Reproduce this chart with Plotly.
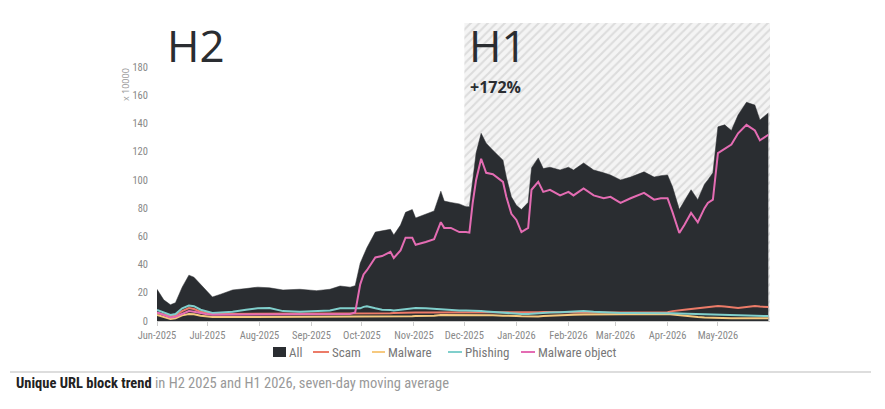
import plotly.graph_objects as go

dates = [
    "2025-06-01", "2025-06-05", "2025-06-09", "2025-06-12", "2025-06-16", "2025-06-20",
    "2025-06-23", "2025-06-27", "2025-06-30", "2025-07-04", "2025-07-09", "2025-07-16",
    "2025-07-24", "2025-07-31", "2025-08-07", "2025-08-15", "2025-08-25", "2025-09-04",
    "2025-09-12", "2025-09-18", "2025-09-24", "2025-09-27", "2025-09-30", "2025-10-02",
    "2025-10-04", "2025-10-09", "2025-10-13", "2025-10-18", "2025-10-20", "2025-10-24",
    "2025-10-27", "2025-10-31", "2025-11-02", "2025-11-08", "2025-11-13", "2025-11-17",
    "2025-11-19", "2025-11-23", "2025-11-28", "2025-12-02", "2025-12-04", "2025-12-06",
    "2025-12-08", "2025-12-11", "2025-12-14", "2025-12-18", "2025-12-24", "2025-12-26",
    "2025-12-29", "2026-01-01", "2026-01-04", "2026-01-08", "2026-01-10", "2026-01-14",
    "2026-01-17", "2026-01-21", "2026-01-27", "2026-02-01", "2026-02-04", "2026-02-10",
    "2026-02-16", "2026-02-22", "2026-02-26", "2026-03-04", "2026-03-10", "2026-03-18",
    "2026-03-24", "2026-03-28", "2026-04-01", "2026-04-04", "2026-04-08", "2026-04-11",
    "2026-04-15", "2026-04-19", "2026-04-23", "2026-04-25", "2026-04-28", "2026-05-01",
    "2026-05-05", "2026-05-09", "2026-05-13", "2026-05-18", "2026-05-23", "2026-05-26",
    "2026-05-31",
]

all_urls = [
    22.5, 15, 11.5, 13, 24, 32.5,
    31, 26, 22, 17, 19, 22,
    23, 24, 23.5, 22, 22.5, 21.5,
    22.5, 24.8, 24, 25, 41, 46,
    52, 63, 64, 65, 61, 68,
    77, 79, 73, 76, 78, 92,
    85, 84, 83, 81, 81, 100,
    119, 133, 126, 121, 114, 102,
    88, 82, 79, 84, 108.5, 115.6,
    108, 109, 107, 109, 107, 112,
    107, 105, 103.5, 100, 102, 105.7,
    102, 103, 103.5, 95, 79, 85,
    93, 86, 97, 100, 105, 137.6,
    139, 135, 146, 155, 153, 142.5,
    147.5,
]

scam = [
    5.7, 4.5, 3.5, 4, 7, 9.2,
    8.5, 6.5, 5.7, 5, 5, 5,
    5, 5, 5, 5, 5, 5,
    5, 5, 5, 5, 5, 5,
    5, 5, 5.2, 5.5, 5.6, 5.8,
    6, 6, 6, 6, 6, 6,
    6, 6, 6, 5.8, 5.8, 5.7,
    5.7, 5.7, 5.7, 5.7, 5.7, 5.7,
    5.7, 5.7, 5.7, 5.8, 6, 6.2,
    6.3, 6.4, 6.3, 6.2, 6, 6,
    6, 6, 6, 6, 6, 6,
    6, 6, 6.2, 7, 7.8, 8,
    8.5, 9, 10, 10.2, 10.4, 10.6,
    10.2, 9.6, 9.2, 10, 10.6, 10.2,
    9.9,
]

malware = [
    4.3, 3, 1.4, 2, 4, 5,
    4.8, 3.8, 3.2, 2.8, 2.8, 2.8,
    2.8, 2.8, 2.8, 2.8, 2.8, 2.8,
    2.8, 2.8, 2.8, 2.8, 2.8, 2.8,
    2.8, 2.8, 2.9, 3, 3, 3.1,
    3.2, 3.3, 3.5, 3.5, 3.8, 4.3,
    4.3, 4.4, 4.5, 4.5, 4.5, 4.5,
    4.4, 4.3, 4.2, 4, 3.8, 3.6,
    3.5, 3.5, 3.3, 3.1, 3, 3.2,
    3.5, 3.8, 4.2, 4.5, 4.5, 4.6,
    4.7, 4.8, 4.9, 5, 5, 5,
    5, 5, 5, 4.6, 4, 3.6,
    3.2, 2.8, 2.5, 2.4, 2.2, 2,
    2, 2, 2, 2, 2, 2,
    2,
]

phishing = [
    7.8, 6, 4.3, 5, 9, 11,
    10.5, 8, 7, 5.7, 6, 6.5,
    8, 9, 9.2, 7, 6.5, 7,
    7.5, 9, 9, 9, 9, 10,
    10.5, 9, 8, 7.8, 7.5, 8,
    8.5, 9, 9.2, 9, 8.5, 8.5,
    8, 7.5, 7.5, 7.5, 7.5, 7.5,
    7.2, 7, 6.8, 6.4, 6, 5.7,
    5.5, 5.2, 5, 5, 5.2, 5.5,
    5.7, 6, 6.2, 6.4, 6.6, 7,
    6.5, 6, 5.8, 5.7, 5.7, 5.8,
    5.7, 5.7, 5.7, 5.5, 5.3, 5.2,
    5, 5, 4.8, 4.7, 4.5, 4.4,
    4.3, 4.2, 4.2, 4, 3.8, 3.6,
    3.5,
]

malware_object = [
    6, 4, 2.5, 3, 5, 7,
    6.5, 5.5, 5, 4.5, 4.5, 5,
    5, 5, 5, 5, 5, 5,
    5, 5, 5, 6, 26, 33,
    36, 45, 46, 49, 44.7, 50,
    59, 59, 54, 56, 58, 70,
    66, 66, 63, 63, 62.6, 84,
    100, 115, 105, 104, 98.6, 88,
    76, 71.6, 63, 66, 93, 98.6,
    91.5, 93, 89, 91.5, 89, 94,
    89, 87, 88, 83.7, 87, 90.8,
    86, 87, 87, 77, 62.4, 68,
    76.6, 70, 80, 83.7, 86, 119,
    122, 125, 133, 139, 135, 128,
    132,
]

series_names = ["All", "Scam", "Malware", "Phishing", "Malware object"]
series_colors = ["#2a2d31", "#ec7b68", "#f6c97f", "#80cfcc", "#e46cb3"]

month_ticks = [
    "2025-06-01", "2025-07-01", "2025-08-01", "2025-09-01", "2025-10-01", "2025-11-01",
    "2025-12-01", "2026-01-01", "2026-02-01", "2026-03-01", "2026-04-01", "2026-05-01",
]
y_ticks = [0, 20, 40, 60, 80, 100, 120, 140, 160, 180]

h1_start = "2025-12-01"
x_end = "2026-06-01"
y_top = 211.2

FONT = "Open Sans, Liberation Sans, sans-serif"
NARROW = "Liberation Sans Narrow, Roboto Condensed, Open Sans, sans-serif"

PW, PH, PL, PB = 613, 298, 157, 321


def px(x):
    return (x - PL) / PW


def py(y):
    return (PB - y) / PH


fig = go.Figure()

# hatched H1 period
fig.add_trace(go.Scatter(
    x=[h1_start, x_end, x_end, h1_start, h1_start],
    y=[0, 0, y_top, y_top, 0],
    mode="lines", line=dict(width=0),
    fill="toself", fillcolor="rgba(0,0,0,0)",
    fillpattern=dict(shape="/", size=6, solidity=0.35,
                     fgcolor="#c4c4c4", bgcolor="#f4f4f4"),
    showlegend=False, hoverinfo="skip",
))

values = [all_urls, scam, malware, phishing, malware_object]
for i, (name, col, vals) in enumerate(zip(series_names, series_colors, values)):
    if i == 0:
        fig.add_trace(go.Scatter(x=dates, y=vals, name=name, mode="lines",
                                 line=dict(width=0.5, color=col),
                                 fill="tozeroy", fillcolor=col, showlegend=False))
    else:
        fig.add_trace(go.Scatter(x=dates, y=vals, name=name, mode="lines",
                                 line=dict(width=2, color=col), showlegend=False))

# manual legend (compact symbols like the reference)
legend_sym_x = [273, 313, 372, 448, 521]
legend_sym_w = [13, 16, 13, 14, 14]
legend_y = 352
shapes = [dict(type="line", xref="paper", yref="paper",
               x0=px(10), x1=px(871), y0=py(372), y1=py(372),
               line=dict(color="#bbbbbb", width=1))]
annotations = []
for i, name in enumerate(series_names):
    x0 = legend_sym_x[i]
    x1 = x0 + legend_sym_w[i]
    if i == 0:
        shapes.append(dict(type="rect", xref="paper", yref="paper",
                           x0=px(x0), x1=px(x1), y0=py(legend_y + 5), y1=py(legend_y - 5),
                           fillcolor=series_colors[i], line=dict(width=0)))
    else:
        shapes.append(dict(type="line", xref="paper", yref="paper",
                           x0=px(x0), x1=px(x1), y0=py(legend_y), y1=py(legend_y),
                           line=dict(color=series_colors[i], width=2)))
    annotations.append(dict(text=name, xref="paper", yref="paper", x=px(x1 + 1), y=py(legend_y),
                            xanchor="left", yanchor="middle", showarrow=False,
                            font=dict(family=NARROW, size=13, color="#777777")))

annotations += [
    dict(text="H2", xref="paper", yref="paper", x=px(165), y=py(45),
         xanchor="left", yanchor="middle", showarrow=False,
         font=dict(family=FONT, size=44, color="#2a2d31")),
    dict(text="H1", xref="paper", yref="paper", x=px(467), y=py(45),
         xanchor="left", yanchor="middle", showarrow=False,
         font=dict(family=FONT, size=44, color="#2a2d31")),
    dict(text="<b>+172%</b>", xref="paper", yref="paper", x=px(468),
         y=py(87), xanchor="left", yanchor="middle", showarrow=False,
         font=dict(family=FONT, size=16, color="#2a2d31")),
    dict(text="x 10000", xref="paper", yref="paper", x=px(125),
         y=py(85), xanchor="center", yanchor="middle", showarrow=False,
         textangle=-90, font=dict(family=FONT, size=9, color="#999999")),
    dict(text="<b><span style='color:#222222'>Unique URL block trend</span></b> "
              "<span style='color:#999999'>in H2 2025 and H1 2026, seven-day moving average</span>",
         xref="paper", yref="paper", x=px(14), y=py(383),
         xanchor="left", yanchor="middle", showarrow=False,
         font=dict(family=NARROW, size=14.5, color="#999999")),
]

fig.update_layout(
    width=885, height=409,
    margin=dict(l=PL, r=885 - PL - PW, t=PB - PH, b=409 - PB, autoexpand=False),
    paper_bgcolor="white", plot_bgcolor="white",
    font=dict(family=FONT, color="#888888", size=10),
    showlegend=False,
    xaxis=dict(type="date", range=["2025-06-01", x_end],
               tickvals=month_ticks, tickformat="%b-%Y",
               ticks="outside", ticklen=4, tickcolor="#cccccc",
               showline=True, linecolor="#cccccc", linewidth=1,
               showgrid=False, zeroline=False, automargin=False,
               tickfont=dict(family=NARROW, size=10.5, color="#888888")),
    yaxis=dict(range=[0, y_top], tickvals=y_ticks, showgrid=False, zeroline=False,
               showline=False, ticks="", ticklabelstandoff=8, automargin=False,
               tickfont=dict(family=NARROW, size=10.5, color="#888888")),
    shapes=shapes,
    annotations=annotations,
)

fig.write_html("out.html")
